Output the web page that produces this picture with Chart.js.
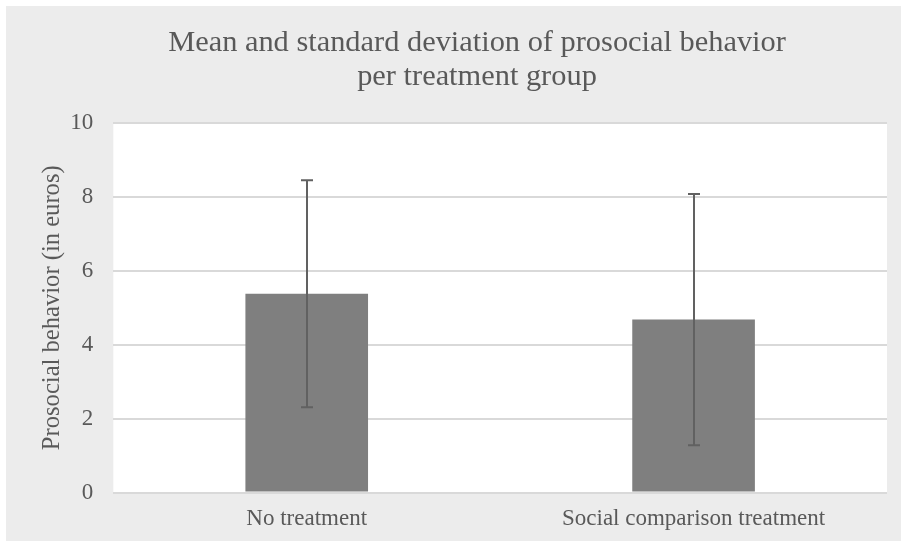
<!DOCTYPE html>
<html>
<head>
<meta charset="utf-8">
<script src="https://cdn.jsdelivr.net/npm/chart.js@4/dist/chart.umd.min.js"></script>
<style>
  html, body { margin: 0; padding: 0; background: #ffffff; }
  #wrap { position: absolute; left: 6px; top: 6px; width: 895px; height: 535px; background: #ececec; }
  canvas { display: block; }
</style>
</head>
<body>
<div id="wrap"><canvas id="c" width="895" height="535"></canvas></div>
<script>
// ---- data ----
const categories = ["No treatment", "Social comparison treatment"];
const meanValues = [5.38, 4.68];
const sdValues = [3.07, 3.40];
const yTicks = [0, 2, 4, 6, 8, 10];
const titleLines = ["Mean and standard deviation of prosocial behavior", "per treatment group"];
const yAxisTitle = "Prosocial behavior (in euros)";

const SERIF = "'Liberation Serif', 'Times New Roman', serif";
const TEXT = "#595959";

const plotBg = {
  id: 'plotBg',
  beforeDraw(chart) {
    const { ctx, chartArea: a } = chart;
    ctx.save();
    ctx.fillStyle = '#ffffff';
    ctx.fillRect(a.left, a.top, a.right - a.left, a.bottom - a.top);
    ctx.restore();
  }
};

// centre the chart title a little right of the canvas centre, as in the reference
const titleShift = {
  id: 'titleShift',
  afterLayout(chart) {
    const t = chart.titleBlock;
    if (t) { t.left = 61; t.right = 881; }
  }
};

const errorBars = {
  id: 'errorBars',
  afterDatasetsDraw(chart) {
    const { ctx } = chart;
    const meta = chart.getDatasetMeta(0);
    const y = chart.scales.y;
    ctx.save();
    ctx.strokeStyle = '#616161';
    ctx.lineWidth = 2;
    meta.data.forEach((bar, i) => {
      const x = Math.round(bar.x);
      const yTop = y.getPixelForValue(meanValues[i] + sdValues[i]);
      const yBot = y.getPixelForValue(meanValues[i] - sdValues[i]);
      const cap = 6;
      ctx.beginPath();
      ctx.moveTo(x, yTop); ctx.lineTo(x, yBot);
      ctx.moveTo(x - cap, yTop); ctx.lineTo(x + cap, yTop);
      ctx.moveTo(x - cap, yBot); ctx.lineTo(x + cap, yBot);
      ctx.stroke();
    });
    ctx.restore();
  }
};

new Chart(document.getElementById('c'), {
  type: 'bar',
  data: {
    labels: categories,
    datasets: [{
      data: meanValues,
      backgroundColor: '#7f7f7f',
      borderWidth: 0,
      categoryPercentage: 1.0,
      barPercentage: 0.317
    }]
  },
  options: {
    responsive: false,
    animation: false,
    devicePixelRatio: 1,
    layout: { padding: { left: 0, right: 14, top: 0, bottom: 0 } },
    plugins: {
      legend: { display: false },
      tooltip: { enabled: false },
      title: {
        display: true,
        text: titleLines,
        color: TEXT,
        font: { family: SERIF, size: 30.4, weight: 'normal', lineHeight: 1.12 },
        padding: { top: 19.5, bottom: 29.4 }
      }
    },
    scales: {
      x: {
        grid: { display: false, drawTicks: false },
        border: { display: false },
        ticks: { color: TEXT, font: { family: SERIF, size: 23 }, padding: 13 },
        afterFit(scale) { scale.height = 48.5; }
      },
      y: {
        min: 0, max: 10,
        afterBuildTicks(scale) { scale.ticks = yTicks.map(v => ({ value: v })); },
        grid: { color: '#d9d9d9', lineWidth: 2, drawTicks: false },
        border: { display: false },
        ticks: { color: TEXT, font: { family: SERIF, size: 23 }, padding: 20 },
        title: {
          display: true,
          text: yAxisTitle,
          color: TEXT,
          font: { family: SERIF, size: 24.6 },
          padding: { top: 31.9, bottom: 0 }
        },
        afterFit(scale) { scale.width = 107.3; }
      }
    }
  },
  plugins: [plotBg, titleShift, errorBars]
});
</script>
</body>
</html>
